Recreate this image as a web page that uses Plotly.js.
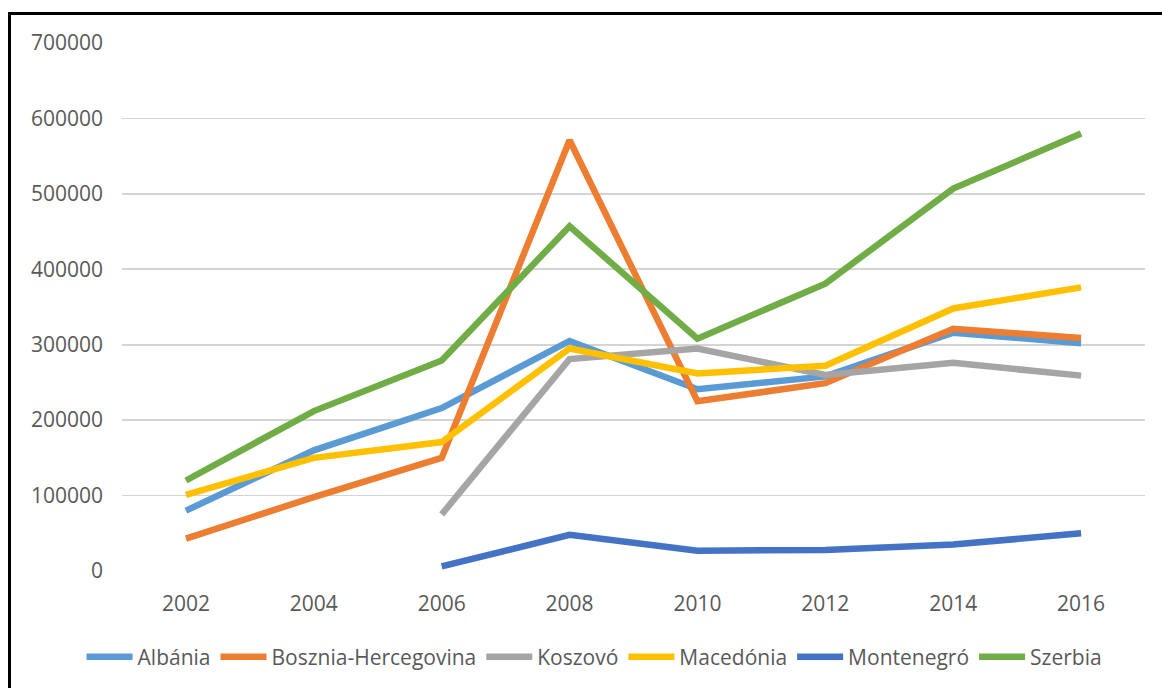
<!DOCTYPE html>
<html>
<head>
<meta charset="utf-8">
<script src="https://cdn.plot.ly/plotly-3.0.1.min.js"></script>
<style>
  html, body { margin: 0; padding: 0; background: #fff; width: 1162px; height: 688px; overflow: hidden; }
  #chart { position: absolute; left: 8px; top: 12px; width: 1151px; height: 673px;
           border-top: 3px solid #000; border-left: 3px solid #000; }
</style>
</head>
<body>
<div id="chart"></div>
<script>
const years = ["2002", "2004", "2006", "2008", "2010", "2012", "2014", "2016"];
const yTicks = [0, 100000, 200000, 300000, 400000, 500000, 600000, 700000];

const albania    = [80000, 160000, 216000, 305000, 241000, 258000, 316000, 302000];
const bosznia    = [43000, 98000, 150000, 571000, 225000, 249000, 321000, 309000];
const koszovo    = [null, null, 75000, 281000, 295000, 260000, 276000, 259000];
const macedonia  = [101000, 150000, 171000, 295000, 262000, 272000, 348000, 376000];
const montenegro = [null, null, 6000, 48000, 27000, 28000, 35000, 50000];
const szerbia    = [120000, 212000, 279000, 457000, 308000, 381000, 507000, 580000];

const names  = ["Albánia", "Bosznia-Hercegovina", "Koszovó", "Macedónia", "Montenegró", "Szerbia"];
const series = [albania, bosznia, koszovo, macedonia, montenegro, szerbia];
const colors = ["#5B9BD5", "#ED7D31", "#A5A5A5", "#FFC000", "#4472C4", "#70AD47"];

const traces = series.map((vals, i) => ({
  type: "scatter",
  mode: "lines",
  x: years,
  y: vals,
  name: names[i],
  line: { color: colors[i], width: 6.5 },
  connectgaps: false
}));

const font = "'Open Sans', 'Liberation Sans', sans-serif";

const layout = {
  width: 1151,
  height: 673,
  margin: { l: 111, r: 17, t: 28, b: 117 },
  paper_bgcolor: "#fff",
  plot_bgcolor: "#fff",
  font: { family: font, color: "#595959", size: 21 },
  showlegend: true,
  xaxis: {
    type: "category",
    range: [-0.5, years.length - 0.5],
    tickvals: years,
    ticktext: years,
    showgrid: false,
    zeroline: false,
    showline: false,
    ticks: "",
    ticklabelstandoff: 18,
    tickfont: { size: 21, color: "#595959", family: font }
  },
  yaxis: {
    range: [0, 700000],
    tickvals: yTicks,
    ticktext: yTicks.map(String),
    showgrid: true,
    gridcolor: "#D4D4D4",
    gridwidth: 1.6,
    zeroline: false,
    showline: false,
    ticks: "",
    ticklabelstandoff: 18,
    tickfont: { size: 21, color: "#595959", family: font }
  },
  legend: {
    orientation: "h",
    xref: "container",
    yref: "container",
    x: 0.507,
    xanchor: "center",
    y: 0.046,
    yanchor: "middle",
    itemwidth: 46,
    tracegroupgap: 0,
    font: { size: 21, color: "#595959", family: font },
    bgcolor: "rgba(0,0,0,0)"
  }
};

Plotly.newPlot("chart", traces, layout, { displayModeBar: false, staticPlot: true });
</script>
</body>
</html>
